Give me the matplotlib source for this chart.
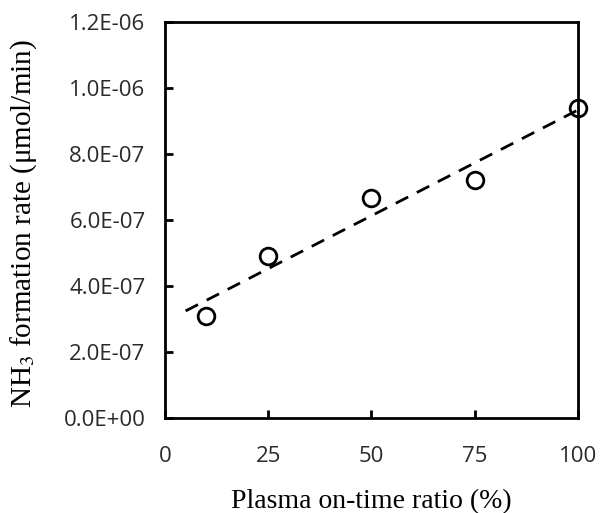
import matplotlib.pyplot as plt
import numpy as np

plt.rcParams['mathtext.fontset'] = 'stix'

# plasma on-time ratio (%) vs NH3 formation rate (umol/min)
on_time = [10, 25, 50, 75, 100]
nh3_rate = [3.1e-07, 4.9e-07, 6.67e-07, 7.22e-07, 9.4e-07]

y_ticks = [0, 2e-07, 4e-07, 6e-07, 8e-07, 1e-06, 1.2e-06]
y_tick_labels = ['0.0E+00', '2.0E-07', '4.0E-07', '6.0E-07', '8.0E-07', '1.0E-06', '1.2E-06']
x_ticks = [0, 25, 50, 75, 100]

fig = plt.figure(figsize=(6, 5.13), dpi=100)
ax = fig.add_axes([0.275, 0.185, 0.688, 0.772])

# linear trend line
slope, intercept = np.polyfit(on_time, nh3_rate, 1)
xs = np.array([5, 100])
ax.plot(xs, slope * xs + intercept, color='black', linestyle=(0, (5, 3.5)), linewidth=2)

ax.plot(on_time, nh3_rate, linestyle='none', marker='o', markersize=12,
        markerfacecolor='none', markeredgecolor='black', markeredgewidth=2, clip_on=False)

ax.set_xlim(0, 100)
ax.set_ylim(0, 1.2e-06)
ax.set_xticks(x_ticks)
ax.set_yticks(y_ticks)
ax.set_yticklabels(y_tick_labels)

for s in ax.spines.values():
    s.set_linewidth(2)
ax.tick_params(direction='in', length=6, width=2, labelsize=16, labelcolor='#2a2a2a')
ax.tick_params(axis='y', pad=14)
ax.tick_params(axis='x', pad=20)
for lab in ax.get_xticklabels() + ax.get_yticklabels():
    lab.set_family('Open Sans')

ax.set_xlabel('Plasma on-time ratio (%)', family='Liberation Serif', fontsize=20, labelpad=16)
ax.set_ylabel('NH$_3$ formation rate (\u03bcmol/min)', family='Liberation Serif', fontsize=21)
ax.yaxis.set_label_coords(-0.305, 0.49)

fig.savefig('out.png', dpi=100)
